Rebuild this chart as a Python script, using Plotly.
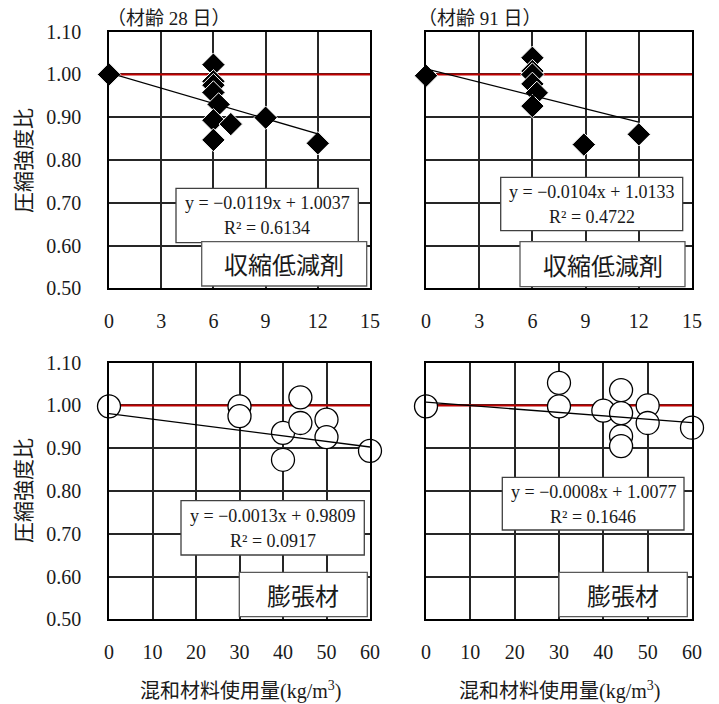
import plotly.graph_objects as go

# ---- data -------------------------------------------------------------
# shrinkage-reducing agent (収縮低減剤), dosage 0-15 kg/m3
sra28_x = [0, 6, 6, 6, 6, 6.3, 6, 7, 6, 9, 12]
sra28_y = [1.000, 1.023, 0.984, 0.975, 0.958, 0.930, 0.893, 0.884, 0.847, 0.899, 0.839]
sra91_x = [0, 6, 6, 6, 6, 6.25, 6, 8.9, 12]
sra91_y = [0.997, 1.039, 1.008, 1.000, 0.978, 0.957, 0.926, 0.836, 0.860]

# expansive additive (膨張材), dosage 0-60 kg/m3
exp28_x = [0, 30, 30, 40, 40, 44, 44, 50, 50, 60]
exp28_y = [0.998, 0.998, 0.975, 0.936, 0.873, 1.019, 0.959, 0.967, 0.926, 0.894]
exp91_x = [0, 30, 30, 40, 44, 44, 44, 44, 50, 50, 60]
exp91_y = [0.998, 1.053, 0.998, 0.988, 1.036, 0.982, 0.928, 0.905, 1.000, 0.959, 0.948]

# linear trend fits: slope, intercept, R^2
fit_slope = [-0.0119, -0.0104, -0.0013, -0.0008]
fit_icept = [1.0037, 1.0133, 0.9809, 1.0077]
fit_r2 = ["0.6134", "0.4722", "0.0917", "0.1646"]
fit_eq = ["y = −0.0119x + 1.0037", "y = −0.0104x + 1.0133",
          "y = −0.0013x + 0.9809", "y = −0.0008x + 1.0077"]

age_titles = ["（材齢 28 日）", "（材齢 91 日）"]
material_labels = ["収縮低減剤", "膨張材"]
xticks_sra = [0, 3, 6, 9, 12, 15]
xticks_exp = [0, 10, 20, 30, 40, 50, 60]
yticks = [0.5, 0.6, 0.7, 0.8, 0.9, 1.0, 1.1]
ytick_text = ["0.50", "0.60", "0.70", "0.80", "0.90", "1.00", "1.10"]
y_title = "圧縮強度比"
x_title = "混和材料使用量(kg/m<sup>3</sup>)"

# ---- layout helpers -----------------------------------------------------
W, H = 719, 704
SERIF = "Liberation Serif, Noto Sans CJK JP"
CJK = "Noto Sans CJK JP"


def px(x):
    return x / W


def py(y):
    return 1 - y / H


x_dom = {"L": [px(109), px(370)], "R": [px(426), px(692)]}
y_dom = {"T": [py(288.3), py(31.7)], "B": [py(619.3), py(362.7)]}

panels = [
    dict(x=sra28_x, y=sra28_y, xmax=15, ticks=xticks_sra, col="L", row="T", kind="diamond"),
    dict(x=sra91_x, y=sra91_y, xmax=15, ticks=xticks_sra, col="R", row="T", kind="diamond"),
    dict(x=exp28_x, y=exp28_y, xmax=60, ticks=xticks_exp, col="L", row="B", kind="circle"),
    dict(x=exp91_x, y=exp91_y, xmax=60, ticks=xticks_exp, col="R", row="B", kind="circle"),
]

# equation box and label box, in pixels: (x0, y0, x1, y1)
eq_boxes = [(176, 188.3, 358.3, 242.7), (500.7, 177.3, 682.7, 230.7),
            (181, 500.7, 364.3, 555), (502.3, 477.3, 684, 530)]
label_boxes = [(201.7, 241.7, 366.7, 286), (520, 241.7, 685, 286.7),
               (239.3, 572.3, 367.3, 616.7), (559, 572.3, 687.3, 616.7)]

fig = go.Figure()
shapes = []
annotations = []

for i, p in enumerate(panels):
    n = "" if i == 0 else str(i + 1)
    xa, ya = "x" + n, "y" + n

    # reference line at ratio 1.00
    fig.add_trace(go.Scatter(x=[0, p["xmax"]], y=[1.0, 1.0], mode="lines",
                             line=dict(color="#C00000", width=2),
                             xaxis=xa, yaxis=ya, showlegend=False, hoverinfo="skip"))
    # measured points
    if p["kind"] == "diamond":
        marker = dict(symbol="diamond", size=18, color="black",
                      line=dict(color="white", width=1))
    else:
        marker = dict(symbol="circle", size=23, color="white",
                      line=dict(color="black", width=1.3))
    fig.add_trace(go.Scatter(x=p["x"], y=p["y"], mode="markers", marker=marker,
                             cliponaxis=False, xaxis=xa, yaxis=ya, showlegend=False))
    # linear trend
    x0, x1 = min(p["x"]), max(p["x"])
    fig.add_trace(go.Scatter(x=[x0, x1],
                             y=[fit_slope[i] * x0 + fit_icept[i], fit_slope[i] * x1 + fit_icept[i]],
                             mode="lines", line=dict(color="black", width=1.3),
                             cliponaxis=False, xaxis=xa, yaxis=ya, showlegend=False,
                             hoverinfo="skip"))

    left = p["col"] == "L"
    fig.layout["xaxis" + n] = dict(
        domain=x_dom[p["col"]], range=[0, p["xmax"]], tickvals=p["ticks"],
        anchor=ya, showgrid=True, gridcolor="#262626", gridwidth=1.5,
        zeroline=False, showline=True, linecolor="black", linewidth=1.5, mirror=True,
        ticks="", ticklabelstandoff=14, automargin=False,
        tickfont=dict(family=SERIF, size=20, color="#1a1a1a"), fixedrange=True)
    fig.layout["yaxis" + n] = dict(
        domain=y_dom[p["row"]], range=[0.5, 1.1], tickvals=yticks, ticktext=ytick_text,
        anchor=xa, showgrid=True, gridcolor="#262626", gridwidth=1.5,
        zeroline=False, showline=True, linecolor="black", linewidth=1.5, mirror=True,
        ticks="", showticklabels=left, ticklabelstandoff=22, automargin=False,
        tickfont=dict(family=SERIF, size=20, color="#1a1a1a"), fixedrange=True)

    # text boxes
    bx0, by0, bx1, by1 = eq_boxes[i]
    shapes.append(dict(type="rect", xref="paper", yref="paper", layer="above",
                       x0=px(bx0), x1=px(bx1), y0=py(by1), y1=py(by0),
                       fillcolor="white", line=dict(color="#404040", width=1.3)))
    cx = px((bx0 + bx1) / 2)
    annotations.append(dict(text=fit_eq[i], x=cx, y=py(by0 + 15), xref="paper", yref="paper",
                            showarrow=False, xanchor="center", yanchor="middle",
                            font=dict(family=SERIF, size=18, color="#1a1a1a")))
    annotations.append(dict(text="R² = " + fit_r2[i], x=cx, y=py(by0 + 40),
                            xref="paper", yref="paper", showarrow=False,
                            xanchor="center", yanchor="middle",
                            font=dict(family=SERIF, size=18, color="#1a1a1a")))

    lx0, ly0, lx1, ly1 = label_boxes[i]
    shapes.append(dict(type="rect", xref="paper", yref="paper", layer="above",
                       x0=px(lx0), x1=px(lx1), y0=py(ly1), y1=py(ly0),
                       fillcolor="white", line=dict(color="#595959", width=1.3)))
    annotations.append(dict(text=material_labels[0 if p["row"] == "T" else 1],
                            x=px((lx0 + lx1) / 2), y=py((ly0 + ly1) / 2),
                            xref="paper", yref="paper", showarrow=False,
                            xanchor="center", yanchor="middle",
                            font=dict(family=CJK, size=24, color="#1a1a1a")))

# age titles above the top row
for t, xl in zip(age_titles, [105, 416]):
    annotations.append(dict(text=t, x=px(xl), y=py(19), xref="paper", yref="paper",
                            showarrow=False, xanchor="left", yanchor="middle",
                            font=dict(family=SERIF, size=19, color="#1a1a1a")))

# y-axis titles
for yc in [161, 491]:
    annotations.append(dict(text=y_title, x=px(22), y=py(yc), xref="paper", yref="paper",
                            showarrow=False, textangle=-90, xanchor="center", yanchor="middle",
                            font=dict(family=CJK, size=21, color="#1a1a1a")))

# x-axis titles
for xc in [240, 559]:
    annotations.append(dict(text=x_title, x=px(xc), y=py(690), xref="paper", yref="paper",
                            showarrow=False, xanchor="center", yanchor="middle",
                            font=dict(family=SERIF, size=20, color="#1a1a1a")))

fig.update_layout(width=W, height=H, margin=dict(l=0, r=0, t=0, b=0, autoexpand=False),
                  paper_bgcolor="white", plot_bgcolor="white",
                  shapes=shapes, annotations=annotations, showlegend=False)

fig.write_html("out.html", config={"displayModeBar": False})
